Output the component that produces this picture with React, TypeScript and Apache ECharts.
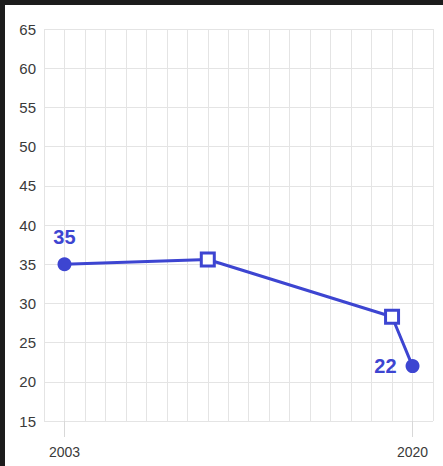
import React, { useEffect, useRef } from "react";
import * as echarts from "echarts";

const years: string[] = [
  "2002","2003","2004","2005","2006","2007","2008","2009","2010","2011",
  "2012","2013","2014","2015","2016","2017","2018","2019","2020","2021",
];
const pointYears: string[] = ["2003", "2010", "2019", "2020"];
const pointValues: number[] = [35, 35.6, 28.3, 22];
const pointSymbols: string[] = ["circle", "rect", "rect", "circle"];
const labelledYears: string[] = ["2003", "2020"];
const labelPositions: string[] = ["top", "", "", "left"];

const BLUE = "#3d45d1";

export default function App() {
  const ref = useRef<HTMLDivElement>(null);
  useEffect(() => {
    document.body.style.margin = "0";
    if (!ref.current) return;
    const chart = echarts.init(ref.current, null, { renderer: "svg" });
    const data = pointYears.map((y, i) => {
      const isRect = pointSymbols[i] === "rect";
      const pos = labelPositions[i];
      return {
        value: [y, pointValues[i]],
        symbol: pointSymbols[i],
        symbolSize: isRect ? 13 : 14,
        itemStyle: isRect
          ? { color: "#ffffff", borderColor: BLUE, borderWidth: 3 }
          : { color: BLUE, borderColor: BLUE, borderWidth: 0 },
        label: pos
          ? {
              show: true,
              position: pos,
              distance: pos === "top" ? 10 : 9,
              formatter: String(Math.round(pointValues[i])),
              color: BLUE,
              fontSize: 20,
              fontWeight: "bold",
              fontFamily: "Liberation Sans, Arial, sans-serif",
            }
          : { show: false },
      };
    });
    chart.setOption({
      animation: false,
      backgroundColor: "#ffffff",
      grid: { left: 39, right: 10, top: 24, bottom: 45 },
      xAxis: {
        type: "category",
        data: years,
        boundaryGap: false,
        axisLine: { show: false },
        axisTick: {
          show: true,
          length: 16,
          interval: (_i: number, v: string) => labelledYears.includes(v),
          lineStyle: { color: "#d8d8d8", width: 1 },
        },
        axisLabel: {
          interval: (_i: number, v: string) => labelledYears.includes(v),
          color: "#3a3a3a",
          fontSize: 14,
          margin: 24,
          fontFamily: "Liberation Sans, Arial, sans-serif",
        },
        splitLine: { show: true, interval: 0, lineStyle: { color: "#e4e4e4", width: 1 } },
      },
      yAxis: {
        type: "value",
        min: 15,
        max: 65,
        interval: 5,
        axisLine: { show: false },
        axisTick: { show: false },
        axisLabel: {
          color: "#3a3a3a",
          fontSize: 15,
          margin: 8,
          fontFamily: "Liberation Sans, Arial, sans-serif",
        },
        splitLine: { show: true, lineStyle: { color: "#e4e4e4", width: 1 } },
      },
      series: [
        {
          type: "line",
          data,
          showSymbol: true,
          showAllSymbol: true,
          lineStyle: { color: BLUE, width: 3 },
          itemStyle: { color: BLUE },
          z: 3,
        },
      ],
    });
    return () => chart.dispose();
  }, []);
  return (
    <div style={{ position: "relative", width: 443, height: 466, background: "#1c1c1c" }}>
      <div
        ref={ref}
        style={{ position: "absolute", left: 5, top: 5, width: 438, height: 461, background: "#ffffff" }}
      />
    </div>
  );
}
